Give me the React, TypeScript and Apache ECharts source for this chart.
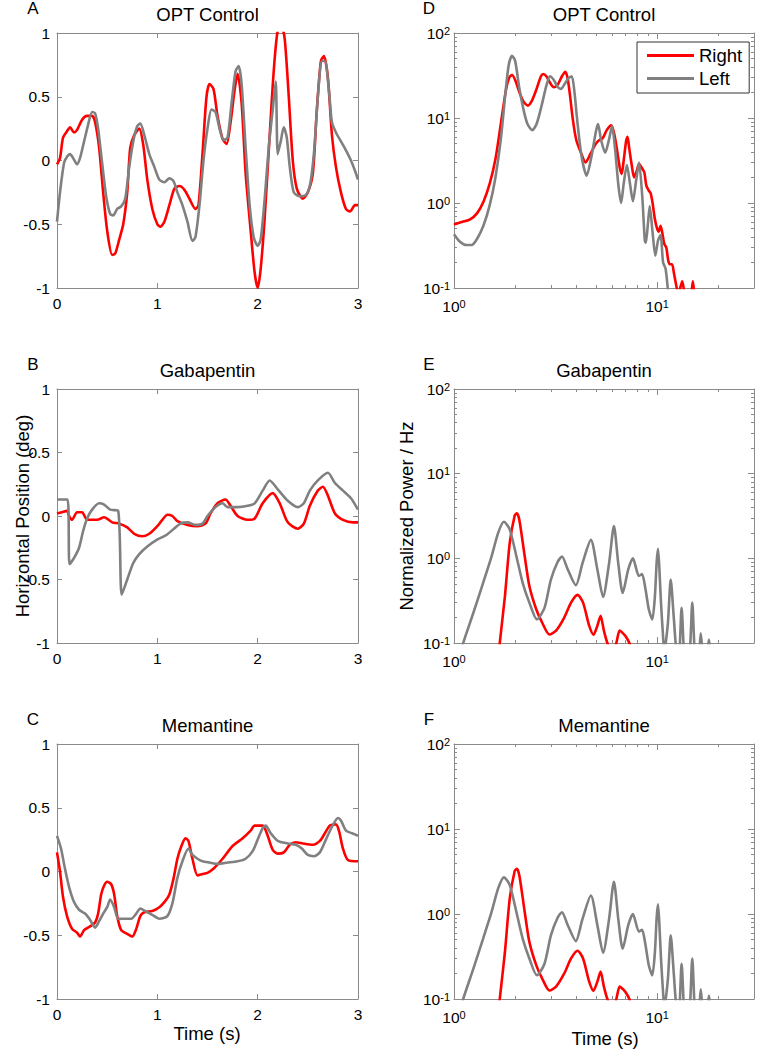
import React, { useEffect, useRef } from 'react';
import * as echarts from 'echarts';

const FONT = '"Liberation Sans", Arial, Helvetica, sans-serif';
const RED = '#ff0000';
const GRAY = '#808080';
const BOX = '#8a8a8a';

// ---- Horizontal position traces: [time (s), position (deg)] ----
const optRight: number[][] = [[0,-0.03],[0.03,0.02],[0.06,0.18],[0.1,0.23],[0.13,0.26],[0.17,0.22],[0.2,0.24],[0.25,0.32],[0.3,0.35],[0.35,0.35],[0.38,0.3],[0.42,0.1],[0.46,-0.25],[0.5,-0.55],[0.55,-0.74],[0.58,-0.73],[0.62,-0.62],[0.66,-0.5],[0.7,-0.25],[0.73,0.1],[0.77,0.2],[0.82,0.25],[0.86,0.12],[0.9,-0.15],[0.95,-0.38],[1.0,-0.5],[1.03,-0.52],[1.07,-0.48],[1.12,-0.35],[1.17,-0.22],[1.22,-0.2],[1.27,-0.23],[1.32,-0.3],[1.38,-0.38],[1.41,-0.35],[1.45,0.05],[1.49,0.5],[1.52,0.6],[1.56,0.56],[1.6,0.35],[1.65,0.17],[1.69,0.13],[1.73,0.3],[1.77,0.55],[1.8,0.68],[1.84,0.45],[1.88,-0.1],[1.93,-0.55],[1.97,-0.88],[2.0,-1.0],[2.03,-0.85],[2.07,-0.45],[2.12,0.2],[2.16,0.7],[2.2,1.02],[2.24,1.04],[2.27,0.95],[2.31,0.5],[2.35,0.0],[2.39,-0.22],[2.45,-0.3],[2.5,-0.25],[2.55,-0.1],[2.59,0.4],[2.63,0.78],[2.66,0.82],[2.7,0.65],[2.74,0.2],[2.78,-0.05],[2.83,-0.25],[2.88,-0.38],[2.92,-0.4],[2.97,-0.35],[3.0,-0.35]];
const optLeft: number[][] = [[0,-0.48],[0.03,-0.25],[0.07,-0.02],[0.1,0.03],[0.13,0.05],[0.16,0.02],[0.2,-0.03],[0.23,0.02],[0.27,0.15],[0.31,0.28],[0.35,0.38],[0.38,0.37],[0.41,0.25],[0.45,-0.02],[0.49,-0.28],[0.53,-0.42],[0.56,-0.43],[0.6,-0.38],[0.64,-0.36],[0.68,-0.3],[0.72,-0.05],[0.76,0.15],[0.8,0.27],[0.83,0.29],[0.87,0.2],[0.92,0.05],[0.97,-0.05],[1.02,-0.15],[1.07,-0.17],[1.12,-0.14],[1.16,-0.16],[1.2,-0.25],[1.25,-0.35],[1.3,-0.48],[1.35,-0.63],[1.38,-0.6],[1.42,-0.35],[1.46,0.0],[1.5,0.25],[1.54,0.4],[1.58,0.38],[1.62,0.25],[1.66,0.16],[1.7,0.18],[1.74,0.45],[1.78,0.7],[1.81,0.74],[1.84,0.6],[1.88,0.1],[1.92,-0.35],[1.96,-0.6],[2.0,-0.67],[2.03,-0.62],[2.07,-0.3],[2.11,0.1],[2.15,0.4],[2.18,0.62],[2.2,0.05],[2.23,0.15],[2.26,0.26],[2.29,0.18],[2.32,-0.05],[2.36,-0.25],[2.42,-0.28],[2.48,-0.27],[2.52,-0.2],[2.56,0.05],[2.6,0.5],[2.64,0.78],[2.67,0.78],[2.71,0.55],[2.74,0.3],[2.78,0.22],[2.83,0.15],[2.88,0.08],[2.93,0.0],[2.97,-0.08],[3.0,-0.15]];
const gabaRight: number[][] = [[0,0.02],[0.05,0.03],[0.1,0.04],[0.12,0.0],[0.15,-0.03],[0.2,0.03],[0.25,0.03],[0.3,-0.03],[0.4,-0.03],[0.47,-0.01],[0.55,-0.05],[0.62,-0.06],[0.7,-0.09],[0.77,-0.14],[0.85,-0.16],[0.92,-0.14],[1.0,-0.08],[1.05,-0.03],[1.1,0.01],[1.15,0.0],[1.2,-0.04],[1.3,-0.07],[1.4,-0.08],[1.48,-0.06],[1.53,0.02],[1.6,0.1],[1.68,0.13],[1.73,0.08],[1.8,0.0],[1.9,-0.03],[1.97,-0.02],[2.05,0.1],[2.15,0.18],[2.22,0.1],[2.3,-0.05],[2.4,-0.1],[2.46,-0.06],[2.52,0.08],[2.6,0.2],[2.65,0.23],[2.7,0.16],[2.77,0.02],[2.85,-0.03],[2.95,-0.05],[3.0,-0.05]];
const gabaLeft: number[][] = [[0,0.13],[0.105,0.13],[0.125,-0.38],[0.17,-0.33],[0.22,-0.25],[0.26,-0.12],[0.3,-0.02],[0.35,0.05],[0.42,0.1],[0.47,0.09],[0.53,0.05],[0.61,0.04],[0.645,-0.62],[0.7,-0.5],[0.76,-0.37],[0.82,-0.3],[0.9,-0.24],[0.99,-0.19],[1.09,-0.15],[1.23,-0.06],[1.3,-0.05],[1.38,-0.07],[1.45,-0.06],[1.5,0.0],[1.58,0.07],[1.65,0.1],[1.7,0.07],[1.8,0.07],[1.9,0.08],[1.97,0.1],[2.05,0.2],[2.12,0.28],[2.2,0.21],[2.3,0.12],[2.4,0.07],[2.46,0.1],[2.52,0.2],[2.6,0.28],[2.7,0.34],[2.77,0.26],[2.85,0.2],[2.93,0.14],[3.0,0.05]];
const memRight: number[][] = [[0,0.15],[0.03,0.0],[0.06,-0.2],[0.1,-0.35],[0.15,-0.45],[0.2,-0.48],[0.23,-0.51],[0.27,-0.46],[0.33,-0.43],[0.38,-0.4],[0.41,-0.33],[0.44,-0.18],[0.47,-0.11],[0.5,-0.08],[0.54,-0.1],[0.57,-0.18],[0.6,-0.35],[0.64,-0.46],[0.7,-0.49],[0.75,-0.51],[0.79,-0.45],[0.83,-0.35],[0.87,-0.32],[0.95,-0.31],[1.02,-0.28],[1.08,-0.23],[1.12,-0.18],[1.16,-0.06],[1.2,0.1],[1.24,0.2],[1.28,0.26],[1.31,0.24],[1.35,0.1],[1.4,-0.03],[1.45,-0.02],[1.5,-0.01],[1.57,0.03],[1.65,0.1],[1.75,0.2],[1.85,0.26],[1.93,0.32],[1.97,0.36],[2.05,0.36],[2.1,0.28],[2.15,0.17],[2.2,0.14],[2.26,0.15],[2.32,0.21],[2.38,0.23],[2.45,0.22],[2.55,0.21],[2.62,0.24],[2.67,0.3],[2.72,0.36],[2.78,0.37],[2.81,0.32],[2.85,0.18],[2.9,0.09],[3.0,0.08]];
const memLeft: number[][] = [[0,0.28],[0.04,0.18],[0.08,0.02],[0.12,-0.12],[0.17,-0.24],[0.22,-0.3],[0.28,-0.33],[0.33,-0.38],[0.38,-0.44],[0.42,-0.39],[0.46,-0.33],[0.5,-0.28],[0.53,-0.22],[0.57,-0.28],[0.61,-0.37],[0.67,-0.37],[0.74,-0.37],[0.79,-0.33],[0.83,-0.29],[0.88,-0.31],[0.95,-0.34],[1.02,-0.37],[1.1,-0.35],[1.15,-0.25],[1.2,-0.05],[1.25,0.08],[1.31,0.18],[1.35,0.13],[1.4,0.1],[1.45,0.08],[1.52,0.07],[1.6,0.06],[1.7,0.07],[1.8,0.08],[1.88,0.1],[1.95,0.16],[2.0,0.25],[2.05,0.34],[2.08,0.36],[2.13,0.3],[2.2,0.24],[2.3,0.22],[2.38,0.21],[2.44,0.18],[2.5,0.13],[2.56,0.12],[2.62,0.15],[2.68,0.25],[2.74,0.35],[2.8,0.42],[2.83,0.4],[2.88,0.32],[2.94,0.3],[3.0,0.28]];

// ---- Power spectra: [frequency, normalized power / Hz] ----
const optSpecRight: number[][] = [[1.0,0.56],[1.1,0.6],[1.2,0.64],[1.3,0.76],[1.4,1.05],[1.5,1.7],[1.6,3.3],[1.7,8.5],[1.8,21],[1.87,30],[1.93,32],[2.0,28],[2.1,20],[2.2,15.5],[2.31,14],[2.42,16],[2.55,22],[2.68,31],[2.75,33],[2.85,31],[2.97,26],[3.1,23],[3.25,25],[3.4,31],[3.53,35],[3.62,30],[3.72,19],[3.85,9.5],[4.0,5.5],[4.2,4.0],[4.45,3.0],[4.7,3.8],[5.0,5.0],[5.2,5.5],[5.4,5.8],[5.65,7.2],[5.95,8.2],[6.15,6.5],[6.35,4.2],[6.55,2.6],[6.7,2.2],[6.85,3.2],[7.05,5.5],[7.15,6.0],[7.3,4.3],[7.5,2.8],[7.7,2.0],[7.95,2.4],[8.15,2.9],[8.4,2.6],[8.65,2.3],[8.85,1.6],[9.1,1.4],[9.3,1.3],[9.5,1.0],[9.75,0.65],[10.0,0.5],[10.2,0.46],[10.4,0.54],[10.6,0.45],[10.85,0.33],[11.1,0.3],[11.35,0.21],[11.6,0.19],[11.85,0.19],[12.1,0.15],[12.4,0.11],[12.7,0.085],[13.0,0.1],[13.3,0.12],[13.6,0.09],[14.0,0.06],[14.6,0.07],[15.0,0.12],[15.3,0.08],[16.0,0.04]];
const optSpecLeft: number[][] = [[1.0,0.43],[1.07,0.35],[1.15,0.32],[1.22,0.32],[1.3,0.38],[1.4,0.55],[1.5,0.95],[1.6,2.0],[1.7,5.6],[1.8,22],[1.86,42],[1.93,54],[2.0,47],[2.1,22],[2.2,12.5],[2.3,8.5],[2.43,7.2],[2.55,8.5],[2.7,14],[2.85,24],[2.97,31],[3.1,28],[3.25,23],[3.36,22],[3.5,25],[3.65,29],[3.8,31],[3.92,20],[4.05,9],[4.25,3.5],[4.5,2.1],[4.75,3.5],[5.0,7],[5.12,8.5],[5.3,5.5],[5.55,3.9],[5.8,5.6],[6.0,8.0],[6.2,4.5],[6.45,1.6],[6.65,1.0],[6.85,1.7],[7.1,2.8],[7.35,1.7],[7.6,1.05],[7.9,1.9],[8.15,3.0],[8.45,1.2],[8.7,0.36],[8.8,0.34],[9.0,0.55],[9.2,0.92],[9.5,0.45],[9.8,0.24],[10.1,0.36],[10.4,0.42],[10.7,0.2],[11.0,0.17],[11.2,0.12],[11.5,0.06],[12.0,0.03]];
const gabaSpecRight: number[][] = [[1.6,0.03],[1.68,0.1],[1.78,0.35],[1.88,1.5],[1.99,3.2],[2.04,3.4],[2.1,2.8],[2.23,1.05],[2.35,0.47],[2.54,0.25],[2.73,0.17],[2.95,0.126],[3.18,0.14],[3.49,0.2],[3.77,0.3],[4.06,0.37],[4.32,0.3],[4.63,0.16],[4.86,0.125],[5.08,0.16],[5.27,0.21],[5.47,0.14],[5.69,0.1],[6.0,0.075],[6.3,0.1],[6.54,0.14],[6.8,0.13],[7.0,0.12],[7.3,0.1],[7.6,0.07]];
const gabaSpecLeft: number[][] = [[1.0,0.04],[1.11,0.1],[1.24,0.22],[1.39,0.51],[1.53,1.05],[1.65,2.0],[1.76,2.7],[1.88,2.2],[2.03,1.05],[2.18,0.51],[2.35,0.3],[2.56,0.19],[2.79,0.26],[3.0,0.56],[3.24,0.91],[3.4,1.05],[3.63,0.74],[3.98,0.48],[4.29,0.87],[4.72,1.65],[5.08,0.74],[5.42,0.35],[5.8,0.87],[6.13,2.4],[6.44,0.87],[6.77,0.39],[7.21,0.74],[7.6,1.0],[8.14,0.62],[8.43,0.65],[8.77,0.43],[9.1,0.25],[9.47,0.19],[9.75,0.35],[9.95,0.9],[10.1,1.3],[10.25,0.8],[10.45,0.3],[10.7,0.12],[10.85,0.08],[11.3,0.17],[11.67,0.56],[12.1,0.19],[12.4,0.09],[12.8,0.07],[13.2,0.26],[13.6,0.07],[14.0,0.05],[14.5,0.08],[14.9,0.3],[15.35,0.07],[15.8,0.05],[16.1,0.07],[16.4,0.13],[16.8,0.07],[17.3,0.05],[17.7,0.08],[18.0,0.11],[18.3,0.08],[19.0,0.03]];
const memSpecRight: number[][] = gabaSpecRight.map((p) => [p[0], p[1]]);
const memSpecLeft: number[][] = gabaSpecLeft.map((p) => [p[0], p[1]]);

// ---- Axis ticks ----
const minorFreq = [2, 3, 4, 5, 6, 7, 8, 9, 20];
const minorPower = [0.2, 0.3, 0.4, 0.5, 0.6, 0.7, 0.8, 0.9, 2, 3, 4, 5, 6, 7, 8, 9, 20, 30, 40, 50, 60, 70, 80, 90];

const titles = ['OPT Control', 'Gabapentin', 'Memantine', 'OPT Control', 'Gabapentin', 'Memantine'];
const letters = ['A', 'B', 'C', 'D', 'E', 'F'];

const panels = [
  { rect: { left: 57, top: 33, width: 301, height: 255 }, log: false, right: optRight, leftEye: optLeft },
  { rect: { left: 57, top: 389, width: 301, height: 254 }, log: false, right: gabaRight, leftEye: gabaLeft },
  { rect: { left: 57, top: 744, width: 301, height: 255 }, log: false, right: memRight, leftEye: memLeft },
  { rect: { left: 454, top: 33, width: 300, height: 255 }, log: true, right: optSpecRight, leftEye: optSpecLeft },
  { rect: { left: 454, top: 389, width: 300, height: 254 }, log: true, right: gabaSpecRight, leftEye: gabaSpecLeft },
  { rect: { left: 454, top: 744, width: 300, height: 255 }, log: true, right: memSpecRight, leftEye: memSpecLeft },
];

const logLabel = (v: number) => {
  const e = Math.log10(v);
  const r = Math.round(e);
  if (Math.abs(e - r) > 1e-6) return '';
  return `{b|10}{e|${r}}`;
};
const logRich = {
  b: { fontSize: 15.5, fontFamily: FONT, color: '#000' },
  e: { fontSize: 11, fontFamily: FONT, color: '#000', verticalAlign: 'top' },
};

function buildOption() {
  const grid: any[] = [];
  const xAxis: any[] = [];
  const yAxis: any[] = [];
  const series: any[] = [];
  const graphic: any[] = [];

  const line = { show: true, onZero: false, lineStyle: { color: BOX, width: 1 } };
  const noLine = { show: false, onZero: false };
  const tick = (len: number, extra: any = {}) => ({ show: true, inside: true, length: len, lineStyle: { color: BOX, width: 1 }, ...extra });
  const lbl = { show: true, color: '#000', fontSize: 15.5, fontFamily: FONT };

  panels.forEach((p, g) => {
    grid.push({ ...p.rect, show: false });
    let xi: number, yi: number;
    if (!p.log) {
      xi = xAxis.length;
      xAxis.push({ type: 'value', gridIndex: g, min: 0, max: 3, interval: 1, position: 'bottom', axisLine: line, axisTick: tick(5), axisLabel: { ...lbl, margin: 7 }, splitLine: { show: false } });
      xAxis.push({ type: 'value', gridIndex: g, min: 0, max: 3, interval: 1, position: 'top', axisLine: line, axisTick: tick(5), axisLabel: { show: false }, splitLine: { show: false } });
      yi = yAxis.length;
      yAxis.push({ type: 'value', gridIndex: g, min: -1, max: 1, interval: 0.5, position: 'left', axisLine: line, axisTick: tick(5), axisLabel: { ...lbl, margin: 7 }, splitLine: { show: false } });
      yAxis.push({ type: 'value', gridIndex: g, min: -1, max: 1, interval: 0.5, position: 'right', axisLine: line, axisTick: tick(5), axisLabel: { show: false }, splitLine: { show: false } });
    } else {
      xi = xAxis.length;
      xAxis.push({ type: 'log', logBase: 10, gridIndex: g, min: 1, max: 30, position: 'bottom', axisLine: line, axisTick: tick(6), axisLabel: { show: true, margin: 10, formatter: logLabel, rich: logRich }, splitLine: { show: false } });
      xAxis.push({ type: 'log', logBase: 10, gridIndex: g, min: 1, max: 30, position: 'top', axisLine: line, axisTick: tick(6), axisLabel: { show: false }, splitLine: { show: false } });
      ['bottom', 'top'].forEach((pos) => {
        xAxis.push({ type: 'value', gridIndex: g, min: 0, max: Math.log10(30), position: pos, axisLine: noLine, axisTick: tick(3, { customValues: minorFreq.map((f) => Math.log10(f)) }), axisLabel: { show: false }, splitLine: { show: false } });
      });
      yi = yAxis.length;
      yAxis.push({ type: 'log', logBase: 10, gridIndex: g, min: 0.1, max: 100, position: 'left', axisLine: line, axisTick: tick(6), axisLabel: { show: true, margin: 4, formatter: logLabel, rich: logRich }, splitLine: { show: false } });
      yAxis.push({ type: 'log', logBase: 10, gridIndex: g, min: 0.1, max: 100, position: 'right', axisLine: line, axisTick: tick(6), axisLabel: { show: false }, splitLine: { show: false } });
      ['left', 'right'].forEach((pos) => {
        yAxis.push({ type: 'value', gridIndex: g, min: -1, max: 2, position: pos, axisLine: noLine, axisTick: tick(3, { customValues: minorPower.map((v) => Math.log10(v)) }), axisLabel: { show: false }, splitLine: { show: false } });
      });
    }
    series.push({ type: 'line', name: 'Right', xAxisIndex: xi, yAxisIndex: yi, data: p.right, showSymbol: false, symbol: 'none', smooth: 0.25, clip: true, color: RED, itemStyle: { color: RED }, lineStyle: { color: RED, width: 2.6 }, z: 2 });
    series.push({ type: 'line', name: 'Left', xAxisIndex: xi, yAxisIndex: yi, data: p.leftEye, showSymbol: false, symbol: 'none', smooth: 0.25, clip: true, color: GRAY, itemStyle: { color: GRAY }, lineStyle: { color: GRAY, width: 2.6 }, z: 3 });

    const cx = p.rect.left + p.rect.width / 2;
    graphic.push({ type: 'text', x: cx, y: p.rect.top - 19, style: { text: titles[g], font: `18.5px ${FONT}`, fill: '#000', align: 'center', verticalAlign: 'middle' } });
    graphic.push({ type: 'text', x: g < 3 ? 33 : 429, y: p.rect.top - 25, style: { text: letters[g], font: `17px ${FONT}`, fill: '#000', align: 'center', verticalAlign: 'middle' } });
  });

  graphic.push({ type: 'text', x: 22, y: 516, rotation: Math.PI / 2, style: { text: 'Horizontal Position (deg)', font: `18.5px ${FONT}`, fill: '#000', align: 'center', verticalAlign: 'middle' } });
  graphic.push({ type: 'text', x: 406, y: 516, rotation: Math.PI / 2, style: { text: 'Normalized Power / Hz', font: `18.5px ${FONT}`, fill: '#000', align: 'center', verticalAlign: 'middle' } });
  graphic.push({ type: 'text', x: 207, y: 1033, style: { text: 'Time (s)', font: `18.5px ${FONT}`, fill: '#000', align: 'center', verticalAlign: 'middle' } });
  graphic.push({ type: 'text', x: 605, y: 1038, style: { text: 'Time (s)', font: `18.5px ${FONT}`, fill: '#000', align: 'center', verticalAlign: 'middle' } });

  return {
    animation: false,
    backgroundColor: '#ffffff',
    grid,
    xAxis,
    yAxis,
    series,
    graphic,
    legend: {
      data: ['Right', 'Left'],
      left: 637,
      top: 42,
      orient: 'vertical',
      icon: 'rect',
      itemWidth: 47,
      itemHeight: 3,
      itemGap: 0,
      padding: [2, 7, 3, 10],
      borderColor: '#333',
      borderWidth: 1,
      backgroundColor: '#fff',
      selectedMode: false,
      textStyle: { fontSize: 18.5, fontFamily: FONT, color: '#000', lineHeight: 23 },
    },
  };
}

export default function App() {
  const ref = useRef<HTMLDivElement>(null);
  useEffect(() => {
    if (!ref.current) return;
    const chart = echarts.init(ref.current, null, { renderer: 'svg' });
    chart.setOption(buildOption() as any);
    return () => chart.dispose();
  }, []);
  return <div ref={ref} style={{ position: 'fixed', left: 0, top: 0, width: 757, height: 1050 }} />;
}
